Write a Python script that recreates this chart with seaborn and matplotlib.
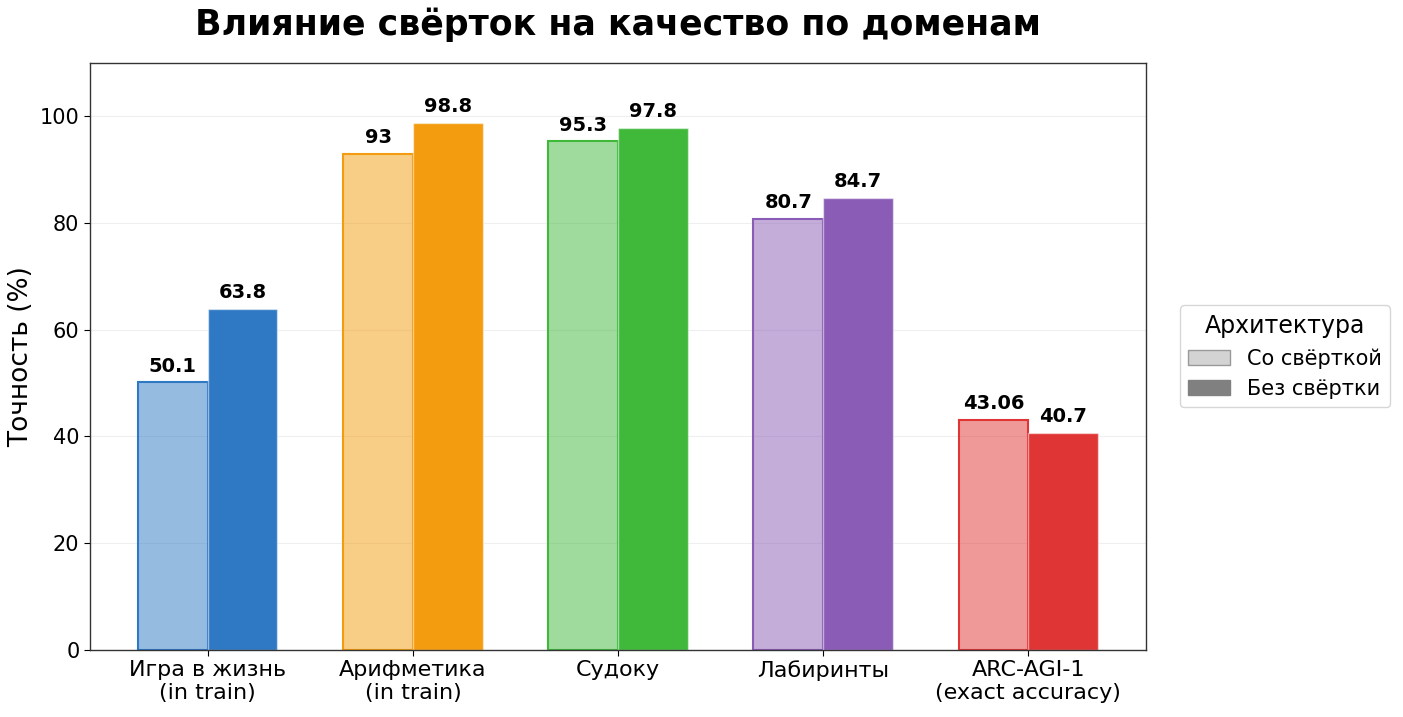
import pandas as pd
import matplotlib.pyplot as plt
import seaborn as sns
from matplotlib.patches import Patch

# Data
domains = ['Игра в жизнь\n(in train)', 'Арифметика\n(in train)', 'Судоку',
           'Лабиринты', 'ARC-AGI-1\n(exact accuracy)']
with_conv = [50.1, 93, 95.3, 80.7, 43.06]
without_conv = [63.8, 98.8, 97.8, 84.7, 40.7]
arch_labels = ['Со свёрткой', 'Без свёртки']
domain_colors = ['#2f78c4', '#f39c0f', '#40b83a', '#8a5cb5', '#e03535']


def build_frame():
    """Long-format table for seaborn."""
    rows = []
    for d, a, b in zip(domains, with_conv, without_conv):
        rows.append({'domain': d, 'acc': a, 'arch': arch_labels[0]})
        rows.append({'domain': d, 'acc': b, 'arch': arch_labels[1]})
    return pd.DataFrame(rows)


df = build_frame()

sns.set_style('white')
plt.rcParams['font.family'] = ['DejaVu Sans']
plt.rcParams['text.color'] = 'black'
plt.rcParams['axes.labelcolor'] = 'black'
plt.rcParams['xtick.color'] = 'black'
plt.rcParams['ytick.color'] = 'black'

fig, ax = plt.subplots(figsize=(14.03, 7.17), dpi=100)
fig.subplots_adjust(left=0.064, right=0.817, top=0.912, bottom=0.094)

sns.barplot(data=df, x='domain', y='acc', hue='arch', hue_order=arch_labels,
            order=domains, width=0.68, ax=ax, legend=False)

# recolor bars per domain: light bars with colored edge, solid bars
for bar, col in zip(ax.containers[0], domain_colors):
    bar.set_facecolor((*plt.matplotlib.colors.to_rgb(col), 0.5))
    bar.set_edgecolor(col)
    bar.set_linewidth(1.5)
for bar, col in zip(ax.containers[1], domain_colors):
    bar.set_facecolor(col)
    bar.set_edgecolor((1, 1, 1, 0.5))
    bar.set_linewidth(1)

for cont in ax.containers:
    ax.bar_label(cont, labels=[f'{v:g}' for v in cont.datavalues],
                 padding=5, fontsize=14, fontweight='bold', color='black')

ax.set_ylim(0, 110)
ax.set_xlim(-0.575, 4.575)
ax.set_title('Влияние свёрток на качество по доменам', fontsize=25,
             fontweight='bold', pad=20, color='black')
ax.set_ylabel('Точность (%)', fontsize=19)
ax.set_xlabel('')
ax.tick_params(axis='x', labelsize=16, length=4, bottom=True)
ax.tick_params(axis='y', labelsize=15, length=4, left=True)
ax.yaxis.grid(True, alpha=0.3)
for sp in ax.spines.values():
    sp.set_color('#333333')
    sp.set_linewidth(1)

handles = [Patch(facecolor='#d3d3d3', edgecolor='#999999', label=arch_labels[0]),
           Patch(facecolor='#808080', edgecolor='#808080', label=arch_labels[1])]
ax.legend(handles=handles, title='Архитектура', loc='center left',
          bbox_to_anchor=(1.022, 0.5), fontsize=15, title_fontsize=17,
          frameon=True)

plt.savefig('out.png', dpi=100)
